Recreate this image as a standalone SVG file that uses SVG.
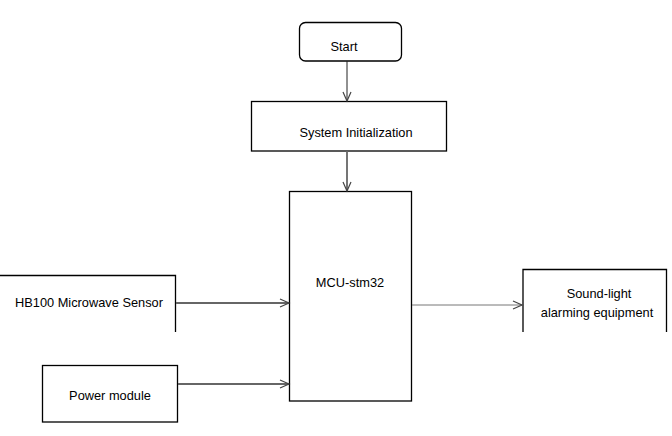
<svg xmlns="http://www.w3.org/2000/svg" width="672" height="436" viewBox="0 0 672 436">
<defs>
<style>
.box{fill:#fff;stroke:#000;stroke-width:1.3}
.t{font-family:"Liberation Sans",Arial,sans-serif;font-size:12.8px;fill:#000;text-anchor:middle}
.c{fill:none;stroke:#666;stroke-width:1.8}
.c2{fill:none;stroke:#777;stroke-width:1}
.c3{fill:none;stroke:#222;stroke-width:1}
</style>
<marker id="ah" markerWidth="12" markerHeight="12" refX="10" refY="5" orient="auto" markerUnits="userSpaceOnUse">
<path d="M1,1 L10,5 L1,9" fill="none" stroke="#444" stroke-width="1.2"/>
</marker>
</defs>
<rect width="672" height="436" fill="#fff"/>
<g id="start">
<rect class="box" x="299.5" y="22.5" width="102" height="38.5" rx="6"/>
<text class="t" x="344" y="51">Start</text>
</g>
<g id="init">
<rect class="box" x="251.5" y="101.5" width="195" height="49.5"/>
<text class="t" x="356" y="136.5">System Initialization</text>
</g>
<g id="mcu">
<rect class="box" x="289.5" y="191.5" width="122" height="209.5"/>
<text class="t" x="350" y="286.5" font-size="13.2">MCU-stm32</text>
</g>
<g id="hb100">
<path class="box" fill="none" d="M0,275.5 H175.5 V332"/>
<text class="t" x="89" y="306.5">HB100 Microwave Sensor</text>
</g>
<g id="power">
<rect class="box" x="42.5" y="365.5" width="135" height="56.5"/>
<text class="t" x="110" y="400">Power module</text>
</g>
<g id="alarm">
<path class="box" fill="none" d="M523,332 V269.5 H666.5 V332"/>
<text class="t" x="599" y="297.5">Sound-light</text>
<text class="t" x="597" y="317">alarming equipment</text>
</g>
<g id="connectors">
<line class="c3" x1="347" y1="61" x2="347" y2="101" marker-end="url(#ah)"/>
<line class="c" x1="347" y1="151" x2="347" y2="191" marker-end="url(#ah)"/>
<line class="c" x1="176" y1="303" x2="289" y2="303" marker-end="url(#ah)"/>
<line class="c" x1="178" y1="384" x2="289" y2="384" marker-end="url(#ah)"/>
<line class="c2" x1="412" y1="305" x2="522" y2="305" marker-end="url(#ah)"/>
</g>
</svg>
